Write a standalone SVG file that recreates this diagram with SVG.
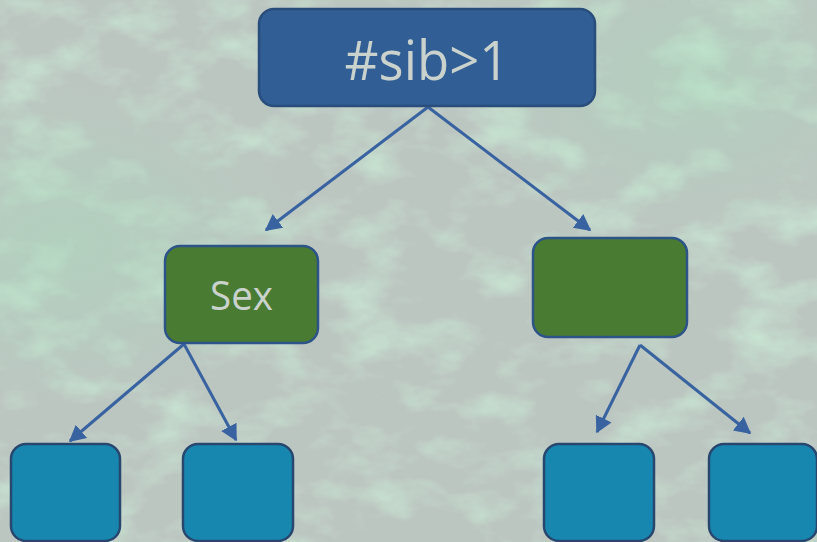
<svg xmlns="http://www.w3.org/2000/svg" width="817" height="542" viewBox="0 0 817 542">
<defs>
<style>
.conn{stroke:#3863a0;stroke-width:3;fill:none;marker-end:url(#ah)}
.top{fill:#315e94;stroke:#2a4e7c;stroke-width:2.5}
.green{fill:#4a7b32;stroke:#2c5488;stroke-width:2.5}
.leaf{fill:#1887b0;stroke:#28476f;stroke-width:2.5}
.lbl{font-family:"Open Sans","Liberation Sans",sans-serif;fill:#c9d2cc;text-anchor:middle}
</style>
<marker id="ah" markerWidth="7" markerHeight="7" refX="5" refY="3.5" orient="auto" markerUnits="strokeWidth">
<path d="M0,0.6 L5.5,3.5 L0,6.4 Z" fill="#3863a0"/>
</marker>
<filter id="tex" x="0" y="0" width="100%" height="100%">
<feTurbulence type="fractalNoise" baseFrequency="0.015 0.025" numOctaves="4" seed="7" result="n"/>
<feColorMatrix in="n" type="matrix" values="0 0 0 0 0.6  0 0 0 0 0.85  0 0 0 0 0.68  1.8 0 0 0 -0.85" result="g"/>
<feComposite in="g" in2="SourceGraphic" operator="over"/>
</filter>
<radialGradient id="gl" cx="0.08" cy="0.45" r="0.3">
<stop offset="0" stop-color="#a6dcba" stop-opacity="0.45"/>
<stop offset="1" stop-color="#a6dcba" stop-opacity="0"/>
</radialGradient>
<radialGradient id="gr" cx="0.85" cy="0.15" r="0.28">
<stop offset="0" stop-color="#a6dcba" stop-opacity="0.4"/>
<stop offset="1" stop-color="#a6dcba" stop-opacity="0"/>
</radialGradient>
</defs>
<rect width="817" height="542" fill="#bcc6c1" filter="url(#tex)"/>
<rect width="817" height="542" fill="url(#gl)"/>
<rect width="817" height="542" fill="url(#gr)"/>
<g id="connectors">
<line class="conn" x1="428" y1="107" x2="266" y2="230"/>
<line class="conn" x1="428" y1="107" x2="590" y2="230"/>
<line class="conn" x1="184" y1="344" x2="70" y2="441"/>
<line class="conn" x1="184" y1="344" x2="236" y2="440"/>
<line class="conn" x1="640" y1="345" x2="597" y2="432"/>
<line class="conn" x1="640" y1="345" x2="750" y2="433"/>
</g>
<g id="n-root">
<rect class="top" x="259" y="9" width="336" height="97" rx="15"/>
<text class="lbl" x="427" y="80" font-size="54" textLength="165" lengthAdjust="spacingAndGlyphs">#sib&gt;1</text>
</g>
<g id="n-sex">
<rect class="green" x="165" y="246" width="153" height="97" rx="15"/>
<text class="lbl" x="241.5" y="310" font-size="40" textLength="63" lengthAdjust="spacingAndGlyphs">Sex</text>
</g>
<g id="n-right">
<rect class="green" x="533" y="238" width="154" height="99" rx="15"/>
</g>
<g id="n-leaf1">
<rect class="leaf" x="11" y="444" width="109" height="97" rx="15"/>
</g>
<g id="n-leaf2">
<rect class="leaf" x="183" y="444" width="110" height="97" rx="15"/>
</g>
<g id="n-leaf3">
<rect class="leaf" x="544" y="444" width="110" height="97" rx="15"/>
</g>
<g id="n-leaf4">
<rect class="leaf" x="709" y="444" width="108" height="97" rx="15"/>
</g>
</svg>
